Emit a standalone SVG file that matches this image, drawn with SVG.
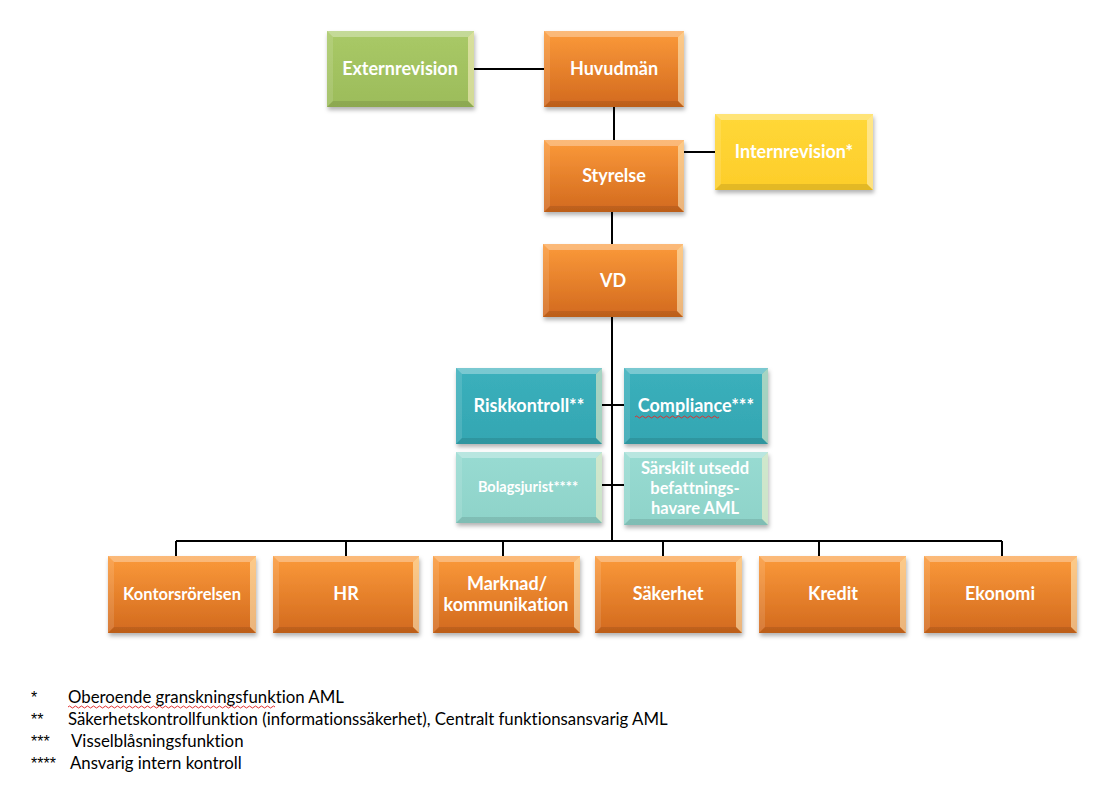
<svg xmlns="http://www.w3.org/2000/svg" width="1109" height="787" viewBox="0 0 1109 787">
<defs>
<linearGradient id="gO" x1="0" y1="0" x2="0" y2="1"><stop offset="0" stop-color="#FB9A3A"/><stop offset="1" stop-color="#D2691E"/></linearGradient>
<linearGradient id="gG" x1="0" y1="0" x2="0" y2="1"><stop offset="0" stop-color="#A9C967"/><stop offset="1" stop-color="#9CBC5A"/></linearGradient>
<linearGradient id="gY" x1="0" y1="0" x2="0" y2="1"><stop offset="0" stop-color="#FFD838"/><stop offset="1" stop-color="#FDCD2A"/></linearGradient>
<linearGradient id="gT" x1="0" y1="0" x2="0" y2="1"><stop offset="0" stop-color="#3BB0BC"/><stop offset="1" stop-color="#34A6B2"/></linearGradient>
<linearGradient id="gL" x1="0" y1="0" x2="0" y2="1"><stop offset="0" stop-color="#98DBD2"/><stop offset="1" stop-color="#8ED3C9"/></linearGradient>
<filter id="sh" x="-10%" y="-10%" width="125%" height="130%"><feDropShadow dx="1" dy="3" stdDeviation="2" flood-color="#000" flood-opacity="0.3"/></filter>
</defs>
<style>
text{font-variant-ligatures:none}
.lbl{font-family:Lato,"Open Sans","Liberation Sans",sans-serif;font-weight:bold;fill:#fff;text-anchor:middle;font-size:18px}
.sm{font-size:16.5px}
.xs{font-size:14.5px}
.leg{font-family:Lato,"Liberation Sans",sans-serif;font-size:16.8px;fill:#000}
.ast{font-family:"Liberation Sans",sans-serif;font-size:16px;fill:#000}
.con{stroke:#000;stroke-width:2;fill:none}
.bt{fill:#fff;opacity:.32}
.br{fill:#FFF3C8;opacity:.55}
.bl{fill:#fff;opacity:.12}
.bb{fill:#000;opacity:.1}
.sq{stroke:#E03030;stroke-width:1;fill:none}
</style>
<rect width="1109" height="787" fill="#fff"/>
<g id="connectors">
<path class="con" d="M474,69 H544 M614,107 V140 M684,152 H715 M612,212 V244 M612,317 V541 M602,405 H624 M602,485 H624 M176,541 H1002 M176,541 V556 M346,541 V556 M503,541 V556 M663,541 V556 M819,541 V556 M1002,541 V556"/>
</g>
<g id="ext"><rect x="327" y="31" width="147" height="76" fill="url(#gG)" filter="url(#sh)"/><polygon class="bt" points="327,31 474,31 468,37 333,37"/><polygon class="br" points="474,31 474,107 468,101 468,37"/><polygon class="bl" points="327,31 333,37 333,101 327,107"/><polygon class="bb" points="327,107 333,101 468,101 474,107"/><text class="lbl" x="400" y="75">Externrevision</text></g>
<g id="huv"><rect x="544" y="31" width="140" height="76" fill="url(#gO)" filter="url(#sh)"/><polygon class="bt" points="544,31 684,31 678,37 550,37"/><polygon class="br" points="684,31 684,107 678,101 678,37"/><polygon class="bl" points="544,31 550,37 550,101 544,107"/><polygon class="bb" points="544,107 550,101 678,101 684,107"/><text class="lbl" x="614" y="75">Huvudmän</text></g>
<g id="sty"><rect x="544" y="140" width="140" height="72" fill="url(#gO)" filter="url(#sh)"/><polygon class="bt" points="544,140 684,140 678,146 550,146"/><polygon class="br" points="684,140 684,212 678,206 678,146"/><polygon class="bl" points="544,140 550,146 550,206 544,212"/><polygon class="bb" points="544,212 550,206 678,206 684,212"/><text class="lbl" x="614" y="182">Styrelse</text></g>
<g id="int"><rect x="715" y="114" width="158" height="76" fill="url(#gY)" filter="url(#sh)"/><polygon class="bt" points="715,114 873,114 867,120 721,120"/><polygon class="br" points="873,114 873,190 867,184 867,120"/><polygon class="bl" points="715,114 721,120 721,184 715,190"/><polygon class="bb" points="715,190 721,184 867,184 873,190"/><text class="lbl" x="794" y="158">Internrevision*</text></g>
<g id="vd"><rect x="543" y="244" width="140" height="73" fill="url(#gO)" filter="url(#sh)"/><polygon class="bt" points="543,244 683,244 677,250 549,250"/><polygon class="br" points="683,244 683,317 677,311 677,250"/><polygon class="bl" points="543,244 549,250 549,311 543,317"/><polygon class="bb" points="543,317 549,311 677,311 683,317"/><text class="lbl" x="613" y="287">VD</text></g>
<g id="risk"><rect x="456" y="368" width="146" height="76" fill="url(#gT)" filter="url(#sh)"/><polygon class="bt" points="456,368 602,368 596,374 462,374"/><polygon class="br" points="602,368 602,444 596,438 596,374"/><polygon class="bl" points="456,368 462,374 462,438 456,444"/><polygon class="bb" points="456,444 462,438 596,438 602,444"/><text class="lbl" x="529" y="412">Riskkontroll**</text></g>
<g id="comp"><rect x="624" y="368" width="144" height="76" fill="url(#gT)" filter="url(#sh)"/><polygon class="bt" points="624,368 768,368 762,374 630,374"/><polygon class="br" points="768,368 768,444 762,438 762,374"/><polygon class="bl" points="624,368 630,374 630,438 624,444"/><polygon class="bb" points="624,444 630,438 762,438 768,444"/><text class="lbl" x="696" y="412">Compliance***</text><path class="sq" d="M635,417 q1.5,-2 3,0 t3,0 t3,0 t3,0 t3,0 t3,0 t3,0 t3,0 t3,0 t3,0 t3,0 t3,0 t3,0 t3,0 t3,0 t3,0 t3,0 t3,0 t3,0 t3,0 t3,0 t3,0 t3,0 t3,0 t3,0 t3,0 t3,0 t3,0"/></g>
<g id="bol"><rect x="456" y="452" width="146" height="71" fill="url(#gL)" filter="url(#sh)"/><polygon class="bt" points="456,452 602,452 596,458 462,458"/><polygon class="br" points="602,452 602,523 596,517 596,458"/><polygon class="bl" points="456,452 462,458 462,517 456,523"/><polygon class="bb" points="456,523 462,517 596,517 602,523"/><text class="lbl xs" x="528" y="492">Bolagsjurist****</text></g>
<g id="sars"><rect x="624" y="452" width="144" height="73" fill="url(#gL)" filter="url(#sh)"/><polygon class="bt" points="624,452 768,452 762,458 630,458"/><polygon class="br" points="768,452 768,525 762,519 762,458"/><polygon class="bl" points="624,452 630,458 630,519 624,525"/><polygon class="bb" points="624,525 630,519 762,519 768,525"/><text class="lbl sm" x="695" y="474">Särskilt utsedd</text><text class="lbl sm" x="695" y="494">befattnings-</text><text class="lbl sm" x="695" y="514">havare AML</text></g>
<g id="kont"><rect x="108" y="556" width="148" height="77" fill="url(#gO)" filter="url(#sh)"/><polygon class="bt" points="108,556 256,556 250,562 114,562"/><polygon class="br" points="256,556 256,633 250,627 250,562"/><polygon class="bl" points="108,556 114,562 114,627 108,633"/><polygon class="bb" points="108,633 114,627 250,627 256,633"/><text class="lbl sm" x="182" y="600">Kontorsrörelsen</text></g>
<g id="hr"><rect x="273" y="556" width="146" height="77" fill="url(#gO)" filter="url(#sh)"/><polygon class="bt" points="273,556 419,556 413,562 279,562"/><polygon class="br" points="419,556 419,633 413,627 413,562"/><polygon class="bl" points="273,556 279,562 279,627 273,633"/><polygon class="bb" points="273,633 279,627 413,627 419,633"/><text class="lbl" x="346" y="600">HR</text></g>
<g id="mark"><rect x="433" y="556" width="147" height="77" fill="url(#gO)" filter="url(#sh)"/><polygon class="bt" points="433,556 580,556 574,562 439,562"/><polygon class="br" points="580,556 580,633 574,627 574,562"/><polygon class="bl" points="433,556 439,562 439,627 433,633"/><polygon class="bb" points="433,633 439,627 574,627 580,633"/><text class="lbl" x="507" y="590">Marknad/</text><text class="lbl" x="506" y="611">kommunikation</text></g>
<g id="sak"><rect x="595" y="556" width="147" height="77" fill="url(#gO)" filter="url(#sh)"/><polygon class="bt" points="595,556 742,556 736,562 601,562"/><polygon class="br" points="742,556 742,633 736,627 736,562"/><polygon class="bl" points="595,556 601,562 601,627 595,633"/><polygon class="bb" points="595,633 601,627 736,627 742,633"/><text class="lbl" x="668" y="600">Säkerhet</text></g>
<g id="kred"><rect x="759" y="556" width="147" height="77" fill="url(#gO)" filter="url(#sh)"/><polygon class="bt" points="759,556 906,556 900,562 765,562"/><polygon class="br" points="906,556 906,633 900,627 900,562"/><polygon class="bl" points="759,556 765,562 765,627 759,633"/><polygon class="bb" points="759,633 765,627 900,627 906,633"/><text class="lbl" x="833" y="600">Kredit</text></g>
<g id="eko"><rect x="924" y="556" width="153" height="77" fill="url(#gO)" filter="url(#sh)"/><polygon class="bt" points="924,556 1077,556 1071,562 930,562"/><polygon class="br" points="1077,556 1077,633 1071,627 1071,562"/><polygon class="bl" points="924,556 930,562 930,627 924,633"/><polygon class="bb" points="924,633 930,627 1071,627 1077,633"/><text class="lbl" x="1000" y="600">Ekonomi</text></g>
<g id="legend">
<text class="ast" x="31" y="703">*</text><text class="leg" x="68" y="703">Oberoende granskningsfunktion AML</text>
<path class="sq" d="M68,707 q1.5,-2 3,0 t3,0 t3,0 t3,0 t3,0 t3,0 t3,0 t3,0 t3,0 t3,0 t3,0 t3,0 t3,0 t3,0 t3,0 t3,0 t3,0 t3,0 t3,0 t3,0 t3,0 t3,0 t3,0 t3,0 t3,0 t3,0 t3,0 t3,0 t3,0 t3,0 t3,0 t3,0 t3,0 t3,0 t3,0 t3,0 t3,0 t3,0 t3,0 t3,0 t3,0 t3,0 t3,0 t3,0 t3,0 t3,0 t3,0 t3,0 t3,0 t3,0 t3,0 t3,0 t3,0 t3,0 t3,0 t3,0 t3,0 t3,0 t3,0 t3,0 t3,0 t3,0 t3,0 t3,0 t3,0 t3,0 t3,0 t3,0 t3,0"/>
<text class="ast" x="31" y="725">**</text><text class="leg" x="68" y="725">Säkerhetskontrollfunktion (informationssäkerhet), Centralt funktionsansvarig AML</text>
<text class="ast" x="31" y="747">***</text><text class="leg" x="71" y="747">Visselblåsningsfunktion</text>
<text class="ast" x="31" y="769">****</text><text class="leg" x="70" y="769">Ansvarig intern kontroll</text>
</g>
</svg>
